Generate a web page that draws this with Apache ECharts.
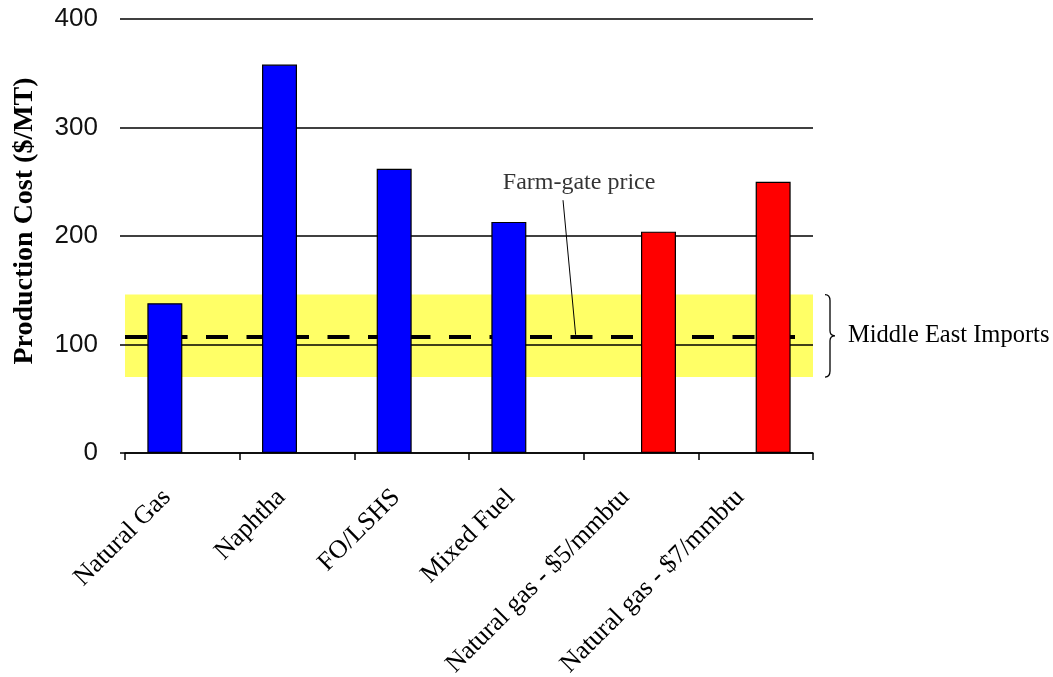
<!DOCTYPE html>
<html>
<head>
<meta charset="utf-8">
<script src="https://cdn.jsdelivr.net/npm/echarts@6/dist/echarts.min.js"></script>
<style>
  html, body { margin: 0; padding: 0; background: #fff; }
  #chart { width: 1053px; height: 677px; }
</style>
</head>
<body>
<div id="chart"></div>
<script>
// Production cost by feedstock ($/MT)
const categories = ['Natural Gas', 'Naphtha', 'FO/LSHS', 'Mixed Fuel', 'Natural gas - $5/mmbtu', 'Natural gas - $7/mmbtu'];
const feedstockCost = [138, 358, 262, 213, null, null];
const gasPriceCost = [null, null, null, null, 204, 250];
const yTickValues = [0, 100, 200, 300, 400];
const importRange = [70, 146];     // Middle East imports, low / high
const farmGatePrice = 107;

const serif = '"Liberation Serif", "Times New Roman", serif';
const sans = '"Liberation Sans", Arial, sans-serif';

const chart = echarts.init(document.getElementById('chart'), null, { renderer: 'canvas' });
const yMin = yTickValues[0];
const yMax = yTickValues[yTickValues.length - 1];
const yStep = yTickValues[1] - yTickValues[0];
const nCat = categories.length;

// right curly brace spanning a vertical pixel range, tip pointing right
function bracePath(x, top, bottom) {
  const mid = (top + bottom) / 2;
  return 'M' + x + ',' + top +
    ' Q' + (x + 5) + ',' + top + ' ' + (x + 5) + ',' + (top + 6) +
    ' L' + (x + 5) + ',' + (mid - 5) +
    ' Q' + (x + 5) + ',' + mid + ' ' + (x + 10) + ',' + mid +
    ' Q' + (x + 5) + ',' + mid + ' ' + (x + 5) + ',' + (mid + 5) +
    ' L' + (x + 5) + ',' + (bottom - 6) +
    ' Q' + (x + 5) + ',' + bottom + ' ' + x + ',' + bottom;
}

const option = {
  animation: false,
  grid: { left: 125, right: 240, top: 19, bottom: 224, containLabel: false, outerBoundsMode: 'none' },
  xAxis: [
    {
      type: 'category',
      data: categories,
      axisLine: { lineStyle: { color: '#000', width: 1.5 } },
      axisTick: { show: true, length: 7, lineStyle: { color: '#000', width: 1.5 } },
      axisLabel: {
        rotate: 45, interval: 0, fontFamily: serif, fontSize: 26, color: '#000',
        margin: 25, padding: [0, 22, 0, 0]
      },
      z: 1
    },
    // hidden continuous axis spanning the same width, used for the band and reference lines
    { type: 'value', min: 0, max: nCat, show: false }
  ],
  yAxis: {
    type: 'value',
    min: yMin,
    max: yMax,
    interval: yStep,
    axisLine: { show: false },
    axisTick: { show: true, length: 5, lineStyle: { color: '#000', width: 1.5 } },
    axisLabel: { fontFamily: sans, fontSize: 26, color: '#111', margin: 27 },
    splitLine: { lineStyle: { color: '#000', width: 1.6 } },
    z: 1
  },
  graphic: [
    {
      type: 'text',
      x: 25,
      y: 221,
      rotation: Math.PI / 2,
      style: {
        text: 'Production Cost ($/MT)',
        font: 'bold 28px ' + serif,
        fill: '#000',
        textAlign: 'center',
        textVerticalAlign: 'middle',
        align: 'center',
        verticalAlign: 'middle'
      }
    }
  ],
  series: [
    {
      // import price band
      type: 'custom',
      xAxisIndex: 1,
      z: 0,
      silent: true,
      data: [[0, nCat, importRange[0], importRange[1]]],
      renderItem(params, api) {
        const p0 = api.coord([api.value(0), api.value(3)]);
        const p1 = api.coord([api.value(1), api.value(2)]);
        return {
          type: 'rect',
          shape: { x: p0[0], y: p0[1], width: p1[0] - p0[0], height: p1[1] - p0[1] },
          style: { fill: '#ffff66' }
        };
      }
    },
    {
      // brace and label beside the band
      type: 'custom',
      xAxisIndex: 1,
      z: 3,
      silent: true,
      clip: false,
      data: [[nCat, importRange[0], importRange[1]]],
      renderItem(params, api) {
        const pTop = api.coord([api.value(0), api.value(2)]);
        const pBot = api.coord([api.value(0), api.value(1)]);
        const x = pTop[0] + 12;
        const top = pTop[1];
        const bottom = pBot[1];
        return {
          type: 'group',
          children: [
            {
              type: 'path',
              shape: { pathData: bracePath(x, top, bottom), x: x, y: top, width: 10, height: bottom - top },
              style: { fill: 'none', stroke: '#000', lineWidth: 1.3 }
            },
            {
              type: 'text',
              x: x + 23,
              y: (top + bottom) / 2,
              style: {
                text: 'Middle East Imports',
                font: '24.5px ' + serif,
                fill: '#000',
                align: 'left',
                verticalAlign: 'middle',
                textAlign: 'left',
                textVerticalAlign: 'middle'
              }
            }
          ]
        };
      }
    },
    {
      // farm-gate price
      type: 'line',
      xAxisIndex: 1,
      z: 1.5,
      silent: true,
      symbol: 'none',
      data: [[0, farmGatePrice], [5.85, farmGatePrice]],
      lineStyle: { color: '#000', width: 4, type: [22, 18.5] }
    },
    {
      // leader from the label down to the farm-gate line
      type: 'line',
      xAxisIndex: 1,
      z: 1.5,
      silent: true,
      symbol: 'none',
      data: [[3.82, 233], [3.93, farmGatePrice + 2]],
      lineStyle: { color: '#000', width: 1 }
    },
    {
      type: 'bar',
      data: feedstockCost,
      barGap: '0%',
      barCategoryGap: '39%',
      itemStyle: { color: '#0000ff', borderColor: '#000', borderWidth: 1.2 },
      z: 2
    },
    {
      type: 'bar',
      data: gasPriceCost,
      itemStyle: { color: '#ff0000', borderColor: '#000', borderWidth: 1.2 },
      z: 2
    },
    {
      type: 'scatter',
      xAxisIndex: 1,
      symbolSize: 0,
      silent: true,
      data: [[3.96, 249]],
      label: {
        show: true,
        formatter: 'Farm-gate price',
        position: 'inside',
        fontFamily: serif,
        fontSize: 24,
        color: '#000'
      },
      z: 3
    }
  ]
};

chart.setOption(option);
</script>
</body>
</html>
